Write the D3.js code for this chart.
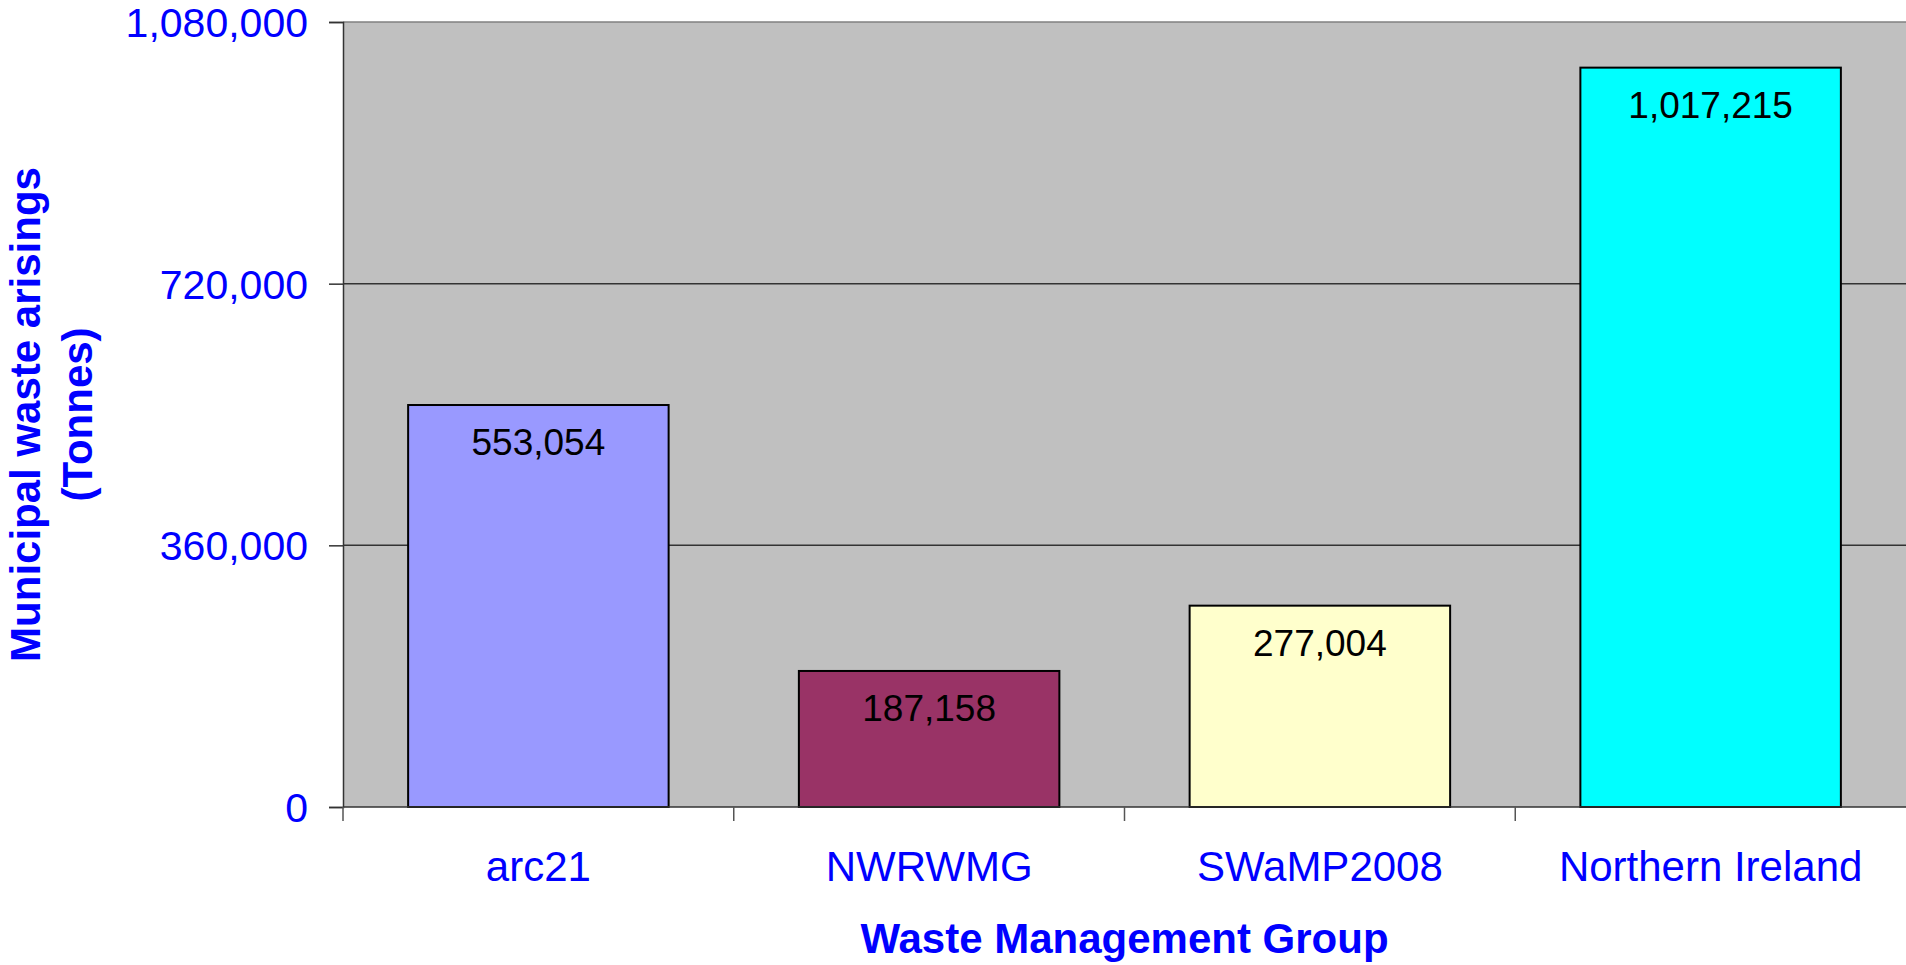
<!DOCTYPE html>
<html>
<head>
<meta charset="utf-8">
<script src="https://cdn.jsdelivr.net/npm/d3@7"></script>
<style>
  html, body { margin: 0; padding: 0; background: #fff; }
  svg { display: block; font-family: Arial, "Liberation Sans", sans-serif; }
</style>
</head>
<body>
<div class="chart"></div>
<script>
const groups = ["arc21", "NWRWMG", "SWaMP2008", "Northern Ireland"];
const tonnes = [553054, 187158, 277004, 1017215];
const barColors = ["#9999FF", "#993366", "#FFFFCC", "#00FFFF"];
const yTicks = [0, 360000, 720000, 1080000];

const dim = {
  width: 1906,
  height: 965,
  marginTop: 22,
  marginRight: 0,
  marginBottom: 158,
  marginLeft: 343
}
dim.boundedWidth = dim.width - dim.marginLeft - dim.marginRight
dim.boundedHeight = dim.height - dim.marginTop - dim.marginBottom

const blue = "#0000FF"
const fmt = d3.format(",")

const svg = d3.select(".chart").append("svg")
  .attr("width", dim.width)
  .attr("height", dim.height)

const bounds = svg.append("g")
  .attr("transform", `translate(${dim.marginLeft},${dim.marginTop})`)

const x = d3.scaleBand()
  .domain(groups)
  .range([0, dim.boundedWidth])
  .paddingInner(1/3)
  .paddingOuter(1/6)

const y = d3.scaleLinear()
  .domain([0, 1080000])
  .range([dim.boundedHeight, 0])

// plot area
bounds.append("rect")
  .attr("width", dim.boundedWidth)
  .attr("height", dim.boundedHeight)
  .attr("fill", "#C0C0C0")

// gridlines
bounds.append("g")
  .selectAll("line")
  .data(yTicks.filter(d => d > 0))
  .enter().append("line")
  .attr("x1", 0)
  .attr("x2", dim.boundedWidth)
  .attr("y1", d => y(d))
  .attr("y2", d => y(d))
  .attr("stroke", d => d === 1080000 ? "#808080" : "#333")
  .attr("stroke-width", 1.5)

// y axis
const yAxis = bounds.append("g")
  .call(d3.axisLeft(y).tickValues(yTicks).tickSize(14).tickPadding(21).tickFormat(fmt))
yAxis.select(".domain").attr("stroke", "#333").attr("stroke-width", 1.5)
yAxis.selectAll(".tick line").attr("stroke", "#333").attr("stroke-width", 1.5)
yAxis.selectAll(".tick text")
  .attr("fill", blue)
  .attr("font-size", "41px")
  .attr("font-family", "Arial, 'Liberation Sans', sans-serif")
  .attr("dy", "0.35em")

// bars
bounds.append("g")
  .selectAll("rect")
  .data(tonnes)
  .enter().append("rect")
  .attr("x", (d, i) => x(groups[i]))
  .attr("y", d => y(d))
  .attr("width", x.bandwidth())
  .attr("height", d => y(0) - y(d))
  .attr("fill", (d, i) => barColors[i])
  .attr("stroke", "#000")
  .attr("stroke-width", 2)

// value labels
bounds.append("g")
  .selectAll("text")
  .data(tonnes)
  .enter().append("text")
  .attr("x", (d, i) => x(groups[i]) + x.bandwidth() / 2)
  .attr("y", d => y(d) + 50)
  .attr("text-anchor", "middle")
  .attr("font-size", "37px")
  .attr("fill", "#000")
  .text(d => fmt(d))

// x axis line and ticks between groups
bounds.append("line")
  .attr("x1", 0)
  .attr("x2", dim.boundedWidth)
  .attr("y1", dim.boundedHeight)
  .attr("y2", dim.boundedHeight)
  .attr("stroke", "#333")
  .attr("stroke-width", 1.5)

bounds.append("g")
  .selectAll("line")
  .data(d3.range(groups.length))
  .enter().append("line")
  .attr("x1", i => i * x.step())
  .attr("x2", i => i * x.step())
  .attr("y1", dim.boundedHeight)
  .attr("y2", dim.boundedHeight + 14)
  .attr("stroke", "#555")
  .attr("stroke-width", 1.5)

bounds.append("g")
  .selectAll("text")
  .data(groups)
  .enter().append("text")
  .attr("x", d => x(d) + x.bandwidth() / 2)
  .attr("y", dim.boundedHeight + 74)
  .attr("text-anchor", "middle")
  .attr("font-size", "42px")
  .attr("fill", blue)
  .text(d => d)

// axis titles
svg.append("text")
  .attr("x", dim.marginLeft + dim.boundedWidth / 2)
  .attr("y", 953)
  .attr("text-anchor", "middle")
  .attr("font-size", "42px")
  .attr("font-weight", "bold")
  .attr("fill", blue)
  .text("Waste Management Group")

const yTitle = svg.append("text")
  .attr("transform", `translate(40,${dim.marginTop + dim.boundedHeight / 2}) rotate(-90)`)
  .attr("text-anchor", "middle")
  .attr("font-size", "42px")
  .attr("font-weight", "bold")
  .attr("fill", blue)

yTitle.append("tspan").attr("x", 0).attr("y", 0).text("Municipal waste arisings")
yTitle.append("tspan").attr("x", 0).attr("y", 52).text("(Tonnes)")
</script>
</body>
</html>
